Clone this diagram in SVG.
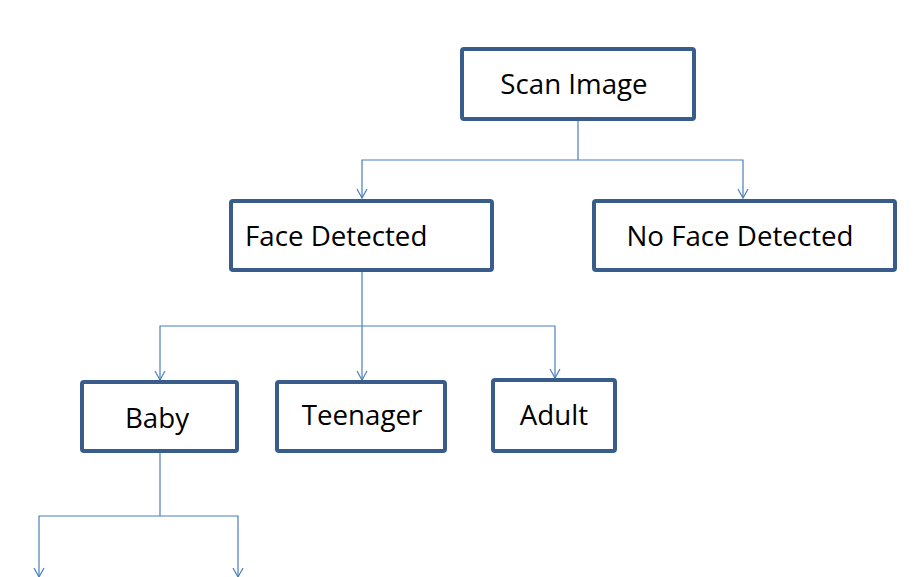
<svg xmlns="http://www.w3.org/2000/svg" width="920" height="577" viewBox="0 0 920 577">
<style>
.box{fill:#ffffff;stroke:#385D8A;stroke-width:4}
.lbl{font-family:"Open Sans","Noto Sans","Liberation Sans",sans-serif;font-size:27.7px;fill:#000000}
.c{text-anchor:middle}
.con{fill:none;stroke:#4A7EBB;stroke-width:1.2}
</style>
<defs>
<marker id="arr" viewBox="-11 -7 13 14" refX="0" refY="0" markerWidth="13" markerHeight="14" markerUnits="userSpaceOnUse" orient="auto">
<path d="M-9,-5 L0,0 L-9,5" fill="none" stroke="#4A7EBB" stroke-width="1.2"/>
</marker>
</defs>
<rect width="920" height="577" fill="#ffffff"/>
<g id="connectors">
<path class="con" d="M578,121 V160"/>
<path class="con" d="M578,160 H362 V198" marker-end="url(#arr)"/>
<path class="con" d="M578,160 H743 V198" marker-end="url(#arr)"/>
<path class="con" d="M362,272 V326"/>
<path class="con" d="M362,326 H160 V380" marker-end="url(#arr)"/>
<path class="con" d="M362,326 V380" marker-end="url(#arr)"/>
<path class="con" d="M362,326 H555 V378" marker-end="url(#arr)"/>
<path class="con" d="M160,453 V516"/>
<path class="con" d="M160,516 H39 V577" marker-end="url(#arr)"/>
<path class="con" d="M160,516 H238 V577" marker-end="url(#arr)"/>
</g>
<g id="scan-image">
<rect class="box" x="462" y="49" width="232" height="70" rx="2"/>
<text class="lbl c" x="574" y="94">Scan Image</text>
</g>
<g id="face-detected">
<rect class="box" x="231" y="201" width="261" height="69" rx="2"/>
<text class="lbl" x="245" y="246">Face Detected</text>
</g>
<g id="no-face-detected">
<rect class="box" x="594" y="201" width="301" height="69" rx="2"/>
<text class="lbl c" x="740" y="246">No Face Detected</text>
</g>
<g id="baby">
<rect class="box" x="82" y="382" width="155" height="69" rx="2"/>
<text class="lbl c" x="157" y="428">Baby</text>
</g>
<g id="teenager">
<rect class="box" x="277" y="382" width="168" height="69" rx="2"/>
<text class="lbl c" x="362" y="425">Teenager</text>
</g>
<g id="adult">
<rect class="box" x="493" y="380" width="122" height="71" rx="2"/>
<text class="lbl c" x="554" y="425">Adult</text>
</g>
</svg>
